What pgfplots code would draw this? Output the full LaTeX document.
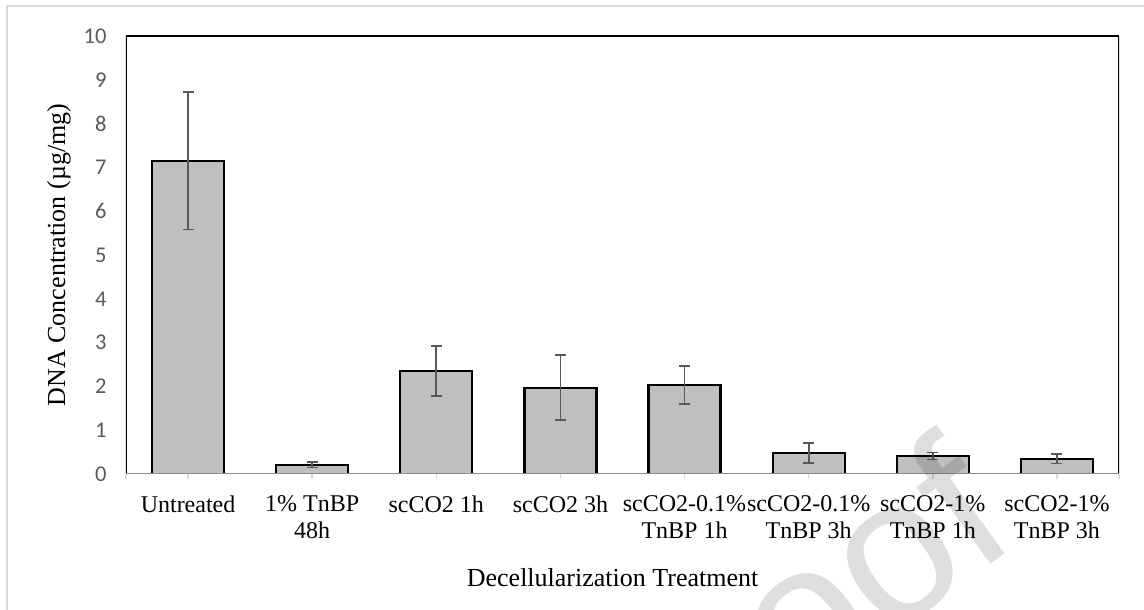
\documentclass[border=0pt]{standalone}
\usepackage{pgfplots}
\usepackage{pgfplotstable}
\pgfplotsset{compat=1.18}
\usepackage{fontspec}
\setmainfont{Liberation Serif}
\newfontfamily\calibri{Carlito}
\newfontfamily\arial{Liberation Sans}

\definecolor{barfill}{HTML}{BFBFBF}
\definecolor{errgray}{HTML}{595959}
\definecolor{axisgray}{HTML}{8C8C8C}
\definecolor{tickgray}{HTML}{D9D9D9}
\definecolor{framegray}{HTML}{D9D9D9}

% mean and error (ug/mg) per treatment
\pgfplotstableread{
x val err
0 7.15 1.57
1 0.21 0.06
2 2.35 0.57
3 1.97 0.74
4 2.03 0.43
5 0.48 0.23
6 0.41 0.08
7 0.35 0.11
}\dnadata

\begin{document}
\begin{tikzpicture}[x=1pt,y=1pt]
\useasboundingbox (0,0) rectangle (1144,610);
\fill[white] (0,0) rectangle (1144,610);
\draw[framegray, line width=1.5pt] (7,0) -- (7,604) -- (1144,604);

\begin{axis}[
    at={(126pt,136pt)}, anchor=south west,
    scale only axis, width=993pt, height=438pt,
    xmin=-0.5, xmax=7.5, ymin=0, ymax=10,
    ytick={0,1,...,10},
    xtick={0,...,7},
    xticklabels={Untreated, {1\% TnBP\\48h}, scCO2 1h, scCO2 3h,
        {scCO2-0.1\%\\TnBP 1h}, {scCO2-0.1\%\\TnBP 3h},
        {scCO2-1\%\\TnBP 1h}, {scCO2-1\%\\TnBP 3h}},
    extra x ticks={-0.5,7.5}, extra x tick labels={},
    extra x tick style={xtick style={tickgray, line width=1.5pt}},
    axis line style={draw=none},
    xtick pos=bottom, ytick pos=left,
    tick align=outside, major tick length=5pt,
    xtick style={tickgray, line width=1.5pt},
    ytick style={draw=none},
    /pgf/number format/assume math mode=true,
    yticklabel style={font=\calibri\fontsize{22.5}{22.5}\selectfont, text=errgray, xshift=-11pt},
    xticklabel style={font=\fontsize{24}{27}\selectfont, align=center, yshift=-13pt},
    xlabel={Decellularization Treatment},
    xlabel style={font=\fontsize{26}{30}\selectfont, at={(axis description cs:0.49,0)}, anchor=center, yshift=-104pt},
    ylabel={DNA Concentration (µg/mg)},
    ylabel style={font=\fontsize{26}{30}\selectfont, at={(axis description cs:-0.0675,0.5)}, anchor=center},
]
\addplot[ybar, bar width=0.58, fill=barfill, draw=black, line width=2.3pt,
    error bars/.cd, y dir=both, y explicit,
    error bar style={errgray, line width=1.8pt},
    error mark options={rotate=90, errgray, mark size=5.5pt, line width=1.8pt}]
    table[x=x, y=val, y error=err] {\dnadata};
\draw[black, line width=2pt] (rel axis cs:0,0) -- (rel axis cs:0,1) -- (rel axis cs:1,1);
\draw[black, line width=3pt] (rel axis cs:1,1) -- (rel axis cs:1,0);
\draw[axisgray, line width=1.5pt] (rel axis cs:0,0) -- (rel axis cs:1,0);
\end{axis}

% faint watermark, only its end shows on the page
\begin{scope}
\clip (0,0) rectangle (1144,610);
\node[rotate=36, anchor=base east, font=\arial\fontsize{200}{200}\selectfont,
    text=black, text opacity=0.13, inner sep=0pt] at (1021.7,68.7) {oof};
\end{scope}
\end{tikzpicture}
\end{document}
